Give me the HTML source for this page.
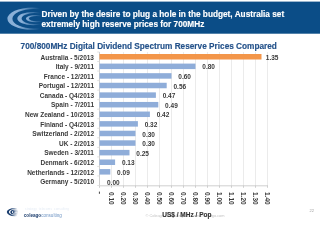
<!DOCTYPE html>
<html><head><meta charset="utf-8">
<style>
html,body{margin:0;padding:0;background:#fff;}
body{width:320px;height:226px;position:relative;overflow:hidden;font-family:"Liberation Sans",sans-serif;}
.abs{position:absolute;white-space:nowrap;line-height:1;}
.ht{position:absolute;color:#fff;font-weight:bold;line-height:1;white-space:nowrap;-webkit-text-stroke:0.15px #fff;}
.cat{position:absolute;font-weight:bold;color:#3A3A3A;line-height:1;white-space:nowrap;}
.val{position:absolute;font-weight:bold;color:#3A3A3A;line-height:1;white-space:nowrap;}
.xl{position:absolute;font-weight:bold;color:#3A3A3A;line-height:1;white-space:nowrap;transform-origin:0 0;transform:rotate(90deg);}
</style></head><body><div style="position:absolute;left:0;top:0;width:320px;height:226px;filter:blur(0.3px)">
<svg class="abs" style="left:0;top:0" width="320" height="40"><rect x="0" y="1.6" width="320" height="32.1" fill="#0B4D87"/></svg>
<svg class="abs" style="left:0;top:0" width="60" height="36" viewBox="0 0 60 36">
<defs><linearGradient id="g1" gradientUnits="userSpaceOnUse" x1="18" x2="40" y1="0" y2="0"><stop offset="0" stop-color="#fff"/><stop offset="1" stop-color="#000"/></linearGradient><mask id="m1" maskUnits="userSpaceOnUse" x="0" y="0" width="60" height="36"><rect width="60" height="36" fill="url(#g1)"/></mask><linearGradient id="g2" gradientUnits="userSpaceOnUse" x1="22" x2="41" y1="0" y2="0"><stop offset="0" stop-color="#fff"/><stop offset="1" stop-color="#000"/></linearGradient><mask id="m2" maskUnits="userSpaceOnUse" x="0" y="0" width="60" height="36"><rect width="60" height="36" fill="url(#g2)"/></mask><linearGradient id="g3" gradientUnits="userSpaceOnUse" x1="27" x2="42" y1="0" y2="0"><stop offset="0" stop-color="#fff"/><stop offset="1" stop-color="#000"/></linearGradient><mask id="m3" maskUnits="userSpaceOnUse" x="0" y="0" width="60" height="36"><rect width="60" height="36" fill="url(#g3)"/></mask></defs>
<g fill="#8AB0D8" fill-rule="evenodd">
<path mask="url(#m1)" d="M7.4 18.7 a25 11.1 0 1 0 50 0 a25 11.1 0 1 0 -50 0 Z M12.4 18.7 a21.5 9.7 0 1 0 43.0 0 a21.5 9.7 0 1 0 -43.0 0 Z"/>
<path mask="url(#m2)" d="M17.3 18.6 a16 6.7 0 1 0 32 0 a16 6.7 0 1 0 -32 0 Z M21.6 18.6 a13 5.5 0 1 0 26 0 a13 5.5 0 1 0 -26 0 Z"/>
<path mask="url(#m3)" d="M25.9 18.6 a10 3.7 0 1 0 20 0 a10 3.7 0 1 0 -20 0 Z M28.9 18.6 a7.8 2.7 0 1 0 15.6 0 a7.8 2.7 0 1 0 -15.6 0 Z"/>
</g></svg>
<div class="ht" style="left:41.5px;top:10.5px;font-size:8.25px">Driven by the desire to plug a hole in the budget, Australia set</div>
<div class="ht" style="left:41.5px;top:21.1px;font-size:8.25px">extremely high reserve prices for 700MHz</div>
<div class="abs" style="left:20.6px;top:43.1px;font-size:8.25px;font-weight:bold;color:#24528A;-webkit-text-stroke:0.15px #24528A">700/800MHz Digital Dividend Spectrum Reserve Prices Compared</div>
<svg class="abs" style="left:0;top:0" width="320" height="226">
<g stroke="#E6E6E6" stroke-width="0.8">
<line x1="111.50" y1="52" x2="111.50" y2="185.5"/>
<line x1="123.50" y1="52" x2="123.50" y2="185.5"/>
<line x1="135.50" y1="52" x2="135.50" y2="185.5"/>
<line x1="147.50" y1="52" x2="147.50" y2="185.5"/>
<line x1="159.50" y1="52" x2="159.50" y2="185.5"/>
<line x1="171.50" y1="52" x2="171.50" y2="185.5"/>
<line x1="183.50" y1="52" x2="183.50" y2="185.5"/>
<line x1="195.50" y1="52" x2="195.50" y2="185.5"/>
<line x1="207.50" y1="52" x2="207.50" y2="185.5"/>
<line x1="219.50" y1="52" x2="219.50" y2="185.5"/>
<line x1="231.50" y1="52" x2="231.50" y2="185.5"/>
<line x1="243.50" y1="52" x2="243.50" y2="185.5"/>
<line x1="255.50" y1="52" x2="255.50" y2="185.5"/>
<line x1="267.50" y1="52" x2="267.50" y2="185.5"/>
</g><g stroke="#C4C4C4" stroke-width="0.8">
<line x1="99.5" y1="52" x2="99.5" y2="185.5"/>
<line x1="99.5" y1="185.8" x2="267.90" y2="185.8"/>
<line x1="99.50" y1="185.5" x2="99.50" y2="187.8"/>
<line x1="111.50" y1="185.5" x2="111.50" y2="187.8"/>
<line x1="123.50" y1="185.5" x2="123.50" y2="187.8"/>
<line x1="135.50" y1="185.5" x2="135.50" y2="187.8"/>
<line x1="147.50" y1="185.5" x2="147.50" y2="187.8"/>
<line x1="159.50" y1="185.5" x2="159.50" y2="187.8"/>
<line x1="171.50" y1="185.5" x2="171.50" y2="187.8"/>
<line x1="183.50" y1="185.5" x2="183.50" y2="187.8"/>
<line x1="195.50" y1="185.5" x2="195.50" y2="187.8"/>
<line x1="207.50" y1="185.5" x2="207.50" y2="187.8"/>
<line x1="219.50" y1="185.5" x2="219.50" y2="187.8"/>
<line x1="231.50" y1="185.5" x2="231.50" y2="187.8"/>
<line x1="243.50" y1="185.5" x2="243.50" y2="187.8"/>
<line x1="255.50" y1="185.5" x2="255.50" y2="187.8"/>
<line x1="267.50" y1="185.5" x2="267.50" y2="187.8"/>
</g><g stroke="#DADADA" stroke-width="0.8">
<line x1="97.2" y1="52.00" x2="99.5" y2="52.00"/>
<line x1="97.2" y1="61.54" x2="99.5" y2="61.54"/>
<line x1="97.2" y1="71.07" x2="99.5" y2="71.07"/>
<line x1="97.2" y1="80.61" x2="99.5" y2="80.61"/>
<line x1="97.2" y1="90.14" x2="99.5" y2="90.14"/>
<line x1="97.2" y1="99.68" x2="99.5" y2="99.68"/>
<line x1="97.2" y1="109.21" x2="99.5" y2="109.21"/>
<line x1="97.2" y1="118.75" x2="99.5" y2="118.75"/>
<line x1="97.2" y1="128.29" x2="99.5" y2="128.29"/>
<line x1="97.2" y1="137.82" x2="99.5" y2="137.82"/>
<line x1="97.2" y1="147.36" x2="99.5" y2="147.36"/>
<line x1="97.2" y1="156.89" x2="99.5" y2="156.89"/>
<line x1="97.2" y1="166.43" x2="99.5" y2="166.43"/>
<line x1="97.2" y1="175.96" x2="99.5" y2="175.96"/>
<line x1="97.2" y1="185.50" x2="99.5" y2="185.50"/>
</g>
<rect x="99.5" y="54.00" width="162.00" height="5.5" fill="#F3964A"/>
<rect x="99.5" y="63.59" width="96.00" height="5.5" fill="#8FADD9"/>
<rect x="99.5" y="73.18" width="72.00" height="5.5" fill="#8FADD9"/>
<rect x="99.5" y="82.77" width="67.20" height="5.5" fill="#8FADD9"/>
<rect x="99.5" y="92.36" width="56.40" height="5.5" fill="#8FADD9"/>
<rect x="99.5" y="101.95" width="58.80" height="5.5" fill="#8FADD9"/>
<rect x="99.5" y="111.54" width="50.40" height="5.5" fill="#8FADD9"/>
<rect x="99.5" y="121.13" width="38.40" height="5.5" fill="#8FADD9"/>
<rect x="99.5" y="130.72" width="36.00" height="5.5" fill="#8FADD9"/>
<rect x="99.5" y="140.31" width="36.00" height="5.5" fill="#8FADD9"/>
<rect x="99.5" y="149.90" width="30.00" height="5.5" fill="#8FADD9"/>
<rect x="99.5" y="159.49" width="15.60" height="5.5" fill="#8FADD9"/>
<rect x="99.5" y="169.08" width="10.80" height="5.5" fill="#8FADD9"/>
</svg>
<div class="cat" style="right:226px;top:54.50px;font-size:6.5px">Australia - 5/2013</div>
<div class="val" style="left:265.80px;top:54.90px;font-size:6.5px">1.35</div>
<div class="cat" style="right:226px;top:64.09px;font-size:6.5px">Italy - 9/2011</div>
<div class="val" style="left:202.30px;top:64.49px;font-size:6.5px">0.80</div>
<div class="cat" style="right:226px;top:73.68px;font-size:6.5px">France - 12/2011</div>
<div class="val" style="left:178.30px;top:74.08px;font-size:6.5px">0.60</div>
<div class="cat" style="right:226px;top:83.27px;font-size:6.5px">Portugal - 12/2011</div>
<div class="val" style="left:173.50px;top:83.67px;font-size:6.5px">0.56</div>
<div class="cat" style="right:226px;top:92.86px;font-size:6.5px">Canada - Q4/2013</div>
<div class="val" style="left:162.70px;top:93.26px;font-size:6.5px">0.47</div>
<div class="cat" style="right:226px;top:102.45px;font-size:6.5px">Spain - 7/2011</div>
<div class="val" style="left:165.10px;top:102.85px;font-size:6.5px">0.49</div>
<div class="cat" style="right:226px;top:112.04px;font-size:6.5px">New Zealand - 10/2013</div>
<div class="val" style="left:156.70px;top:112.44px;font-size:6.5px">0.42</div>
<div class="cat" style="right:226px;top:121.63px;font-size:6.5px">Finland - Q4/2013</div>
<div class="val" style="left:144.70px;top:122.03px;font-size:6.5px">0.32</div>
<div class="cat" style="right:226px;top:131.22px;font-size:6.5px">Switzerland - 2/2012</div>
<div class="val" style="left:142.30px;top:131.62px;font-size:6.5px">0.30</div>
<div class="cat" style="right:226px;top:140.81px;font-size:6.5px">UK - 2/2013</div>
<div class="val" style="left:142.30px;top:141.21px;font-size:6.5px">0.30</div>
<div class="cat" style="right:226px;top:150.40px;font-size:6.5px">Sweden - 3/2011</div>
<div class="val" style="left:136.30px;top:150.80px;font-size:6.5px">0.25</div>
<div class="cat" style="right:226px;top:159.99px;font-size:6.5px">Denmark - 6/2012</div>
<div class="val" style="left:121.90px;top:160.39px;font-size:6.5px">0.13</div>
<div class="cat" style="right:226px;top:169.58px;font-size:6.5px">Netherlands - 12/2012</div>
<div class="val" style="left:117.10px;top:169.98px;font-size:6.5px">0.09</div>
<div class="cat" style="right:226px;top:179.17px;font-size:6.5px">Germany - 5/2010</div>
<div class="val" style="left:107.00px;top:179.57px;font-size:6.5px">0.00</div>
<svg class="abs" style="left:0;top:0" width="320" height="226"><rect x="98.90" y="191.6" width="1.1" height="2.2" fill="#555"/></svg>
<div class="xl" style="left:114.40px;top:191.7px;font-size:6.5px">0.10</div>
<div class="xl" style="left:126.40px;top:191.7px;font-size:6.5px">0.20</div>
<div class="xl" style="left:138.40px;top:191.7px;font-size:6.5px">0.30</div>
<div class="xl" style="left:150.40px;top:191.7px;font-size:6.5px">0.40</div>
<div class="xl" style="left:162.40px;top:191.7px;font-size:6.5px">0.50</div>
<div class="xl" style="left:174.40px;top:191.7px;font-size:6.5px">0.60</div>
<div class="xl" style="left:186.40px;top:191.7px;font-size:6.5px">0.70</div>
<div class="xl" style="left:198.40px;top:191.7px;font-size:6.5px">0.80</div>
<div class="xl" style="left:210.40px;top:191.7px;font-size:6.5px">0.90</div>
<div class="xl" style="left:222.40px;top:191.7px;font-size:6.5px">1.00</div>
<div class="xl" style="left:234.40px;top:191.7px;font-size:6.5px">1.10</div>
<div class="xl" style="left:246.40px;top:191.7px;font-size:6.5px">1.20</div>
<div class="xl" style="left:258.40px;top:191.7px;font-size:6.5px">1.30</div>
<div class="xl" style="left:270.40px;top:191.7px;font-size:6.5px">1.40</div>
<div class="abs" style="left:145.5px;top:214.2px;font-size:3.9px;color:#C2C2C2">© Coleago Consulting Ltd &nbsp; www.coleago.com</div>
<div class="abs" style="left:162.3px;top:211.8px;font-size:6.5px;font-weight:bold;color:#333;-webkit-text-stroke:0.12px #333">US$ / MHz / Pop</div>
<svg class="abs" style="left:0;top:0" width="320" height="226">
<defs><linearGradient id="g4" gradientUnits="userSpaceOnUse" x1="11" x2="17.5" y1="0" y2="0"><stop offset="0" stop-color="#fff"/><stop offset="1" stop-color="#000"/></linearGradient><mask id="m4" maskUnits="userSpaceOnUse" x="0" y="0" width="320" height="226"><rect width="320" height="226" fill="url(#g4)"/></mask><linearGradient id="g5" gradientUnits="userSpaceOnUse" x1="12" x2="18" y1="0" y2="0"><stop offset="0" stop-color="#fff"/><stop offset="1" stop-color="#000"/></linearGradient><mask id="m5" maskUnits="userSpaceOnUse" x="0" y="0" width="320" height="226"><rect width="320" height="226" fill="url(#g5)"/></mask><linearGradient id="g6" gradientUnits="userSpaceOnUse" x1="13.5" x2="18.5" y1="0" y2="0"><stop offset="0" stop-color="#fff"/><stop offset="1" stop-color="#000"/></linearGradient><mask id="m6" maskUnits="userSpaceOnUse" x="0" y="0" width="320" height="226"><rect width="320" height="226" fill="url(#g6)"/></mask></defs>
<g fill="#1B3E6F" fill-rule="evenodd">
<path mask="url(#m4)" d="M6.8 212.1 a8 4.1 0 1 0 16 0 a8 4.1 0 1 0 -16 0 Z M8.9 212.1 a6.6 3.2 0 1 0 13.2 0 a6.6 3.2 0 1 0 -13.2 0 Z"/>
<path mask="url(#m5)" d="M10.3 212.1 a5 2.6 0 1 0 10 0 a5 2.6 0 1 0 -10 0 Z M11.9 212.1 a3.8 1.7 0 1 0 7.6 0 a3.8 1.7 0 1 0 -7.6 0 Z"/>
<path mask="url(#m6)" d="M12.8 212.1 a3 1.3 0 1 0 6 0 a3 1.3 0 1 0 -6 0 Z M13.9 212.1 a2.2 0.6 0 1 0 4.4 0 a2.2 0.6 0 1 0 -4.4 0 Z"/>
</g></svg>
<div class="abs" style="left:25px;top:207.6px;font-size:3px;color:#E4EBF4;letter-spacing:0.15px">strategy &nbsp;telecoms &nbsp;consulting</div>
<div class="abs" style="left:23.8px;top:214.4px;font-size:4.6px;"><b style="color:#1E3F6E">coleago</b><span style="color:#6F95C4">consulting</span></div>
<div class="abs" style="left:309.6px;top:208.6px;font-size:4px;color:#A0A0A0">22</div>
</div></body></html>
